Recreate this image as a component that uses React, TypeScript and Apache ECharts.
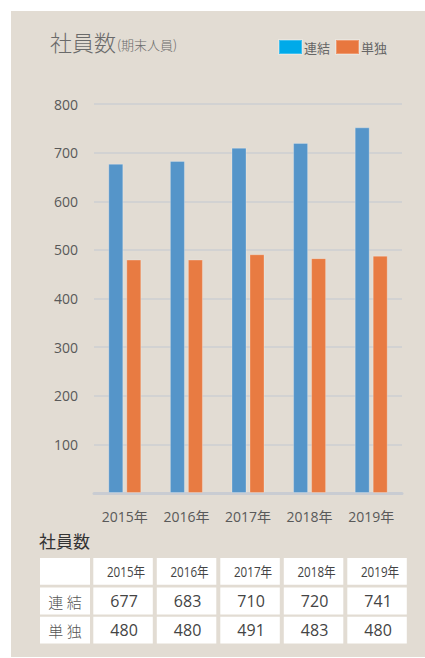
import React, { useEffect, useRef } from "react";
import * as echarts from "echarts";

const categories = ["2015年", "2016年", "2017年", "2018年", "2019年"];
const seriesNames = ["連結", "単独"];
const consolidated = [677, 683, 710, 720, 752];
const nonConsolidated = [480, 480, 491, 483, 488];
const yTicks = [0, 100, 200, 300, 400, 500, 600, 700, 800];

const tableTitle = "社員数";
const tableRowLabels = ["連 結", "単 独"];
const tableConsolidated = ["677", "683", "710", "720", "741"];
const tableNonConsolidated = ["480", "480", "491", "483", "480"];

const FONT = "'Open Sans', 'Noto Sans CJK JP', sans-serif";
const CJK = "'Noto Sans CJK JP', sans-serif";

export default function App() {
  const ref = useRef<HTMLDivElement>(null);

  useEffect(() => {
    document.body.style.margin = "0";
    if (!ref.current) return;
    const chart = echarts.init(ref.current, undefined, { renderer: "svg" });

    const graphics: any[] = [];
    // chart title
    graphics.push({
      type: "text",
      left: 50,
      top: 30,
      style: { text: "社員数", font: `300 22px ${CJK}`, fill: "#6a6a6a" },
    });
    graphics.push({
      type: "text",
      left: 117,
      top: 38,
      style: { text: "(期末人員)", font: `300 13px ${CJK}`, fill: "#6a6a6a" },
    });
    // table title
    graphics.push({
      type: "text",
      left: 39,
      top: 532,
      style: { text: tableTitle, font: `17px ${CJK}`, fill: "#333333" },
    });

    const rowY = [558, 587.6, 616.8];
    const rowH = 26.8;
    const colX = [40, 93.3, 156.8, 220.3, 283.8, 347.3];
    const colW = [50, 59.5, 59.5, 59.5, 59.5, 59.5];
    const rows: string[][] = [
      ["", ...categories],
      [tableRowLabels[0], ...tableConsolidated],
      [tableRowLabels[1], ...tableNonConsolidated],
    ];
    rows.forEach((row, r) => {
      row.forEach((cell, c) => {
        graphics.push({
          type: "rect",
          shape: { x: colX[c], y: rowY[r], width: colW[c], height: rowH },
          style: { fill: "#ffffff" },
        });
        if (cell) {
          const isHeader = r === 0;
          const isLabel = c === 0;
          graphics.push({
            type: "text",
            x: colX[c] + colW[c] / 2 + (isHeader ? 3 : isLabel ? 0 : 1),
            y: rowY[r] + rowH / 2,
            scaleX: isHeader ? 0.83 : 1,
            style: {
              text: cell,
              font: isHeader
                ? `14px ${FONT}`
                : isLabel
                ? `300 15px ${CJK}`
                : `16px ${FONT}`,
              fill: isLabel ? "#555555" : "#444444",
              align: "center",
              verticalAlign: "middle",
            },
          });
        }
      });
    });

    chart.setOption({
      animation: false,
      backgroundColor: "transparent",
      legend: {
        left: 278,
        top: 39,
        padding: 0,
        itemWidth: 23,
        itemHeight: 14,
        itemGap: 5,
        icon: "rect",
        textStyle: { fontSize: 13, color: "#666666", fontFamily: CJK, padding: [0, 0, 0, -3] },
        data: [
          { name: seriesNames[0], itemStyle: { color: "#00aae9" } },
          { name: seriesNames[1], itemStyle: { color: "#e8773f" } },
        ],
      },
      grid: { left: 94, right: 23, top: 104, bottom: 165 },
      xAxis: {
        type: "category",
        data: categories,
        axisLine: { show: true, lineStyle: { color: "#c9ccd2", width: 3 } },
        axisTick: { show: false },
        axisLabel: {
          color: "#595959",
          fontSize: 14,
          fontFamily: FONT,
          margin: 16,
        },
      },
      yAxis: {
        type: "value",
        min: yTicks[0],
        max: yTicks[yTicks.length - 1],
        interval: 100,
        axisLine: { show: false },
        axisTick: { show: false },
        splitLine: { lineStyle: { color: "#d2d2d2", width: 2 } },
        axisLabel: {
          color: "#595959",
          fontSize: 14,
          fontFamily: FONT,
          margin: 16,
          formatter: (v: number) => (v === 0 ? "" : String(v)),
        },
      },
      series: [
        {
          name: seriesNames[0],
          type: "bar",
          data: consolidated,
          barWidth: 15,
          barGap: "20%",
          itemStyle: {
            color: "#5595c9",
            borderColor: "rgba(255,255,255,0.25)",
            borderWidth: 1,
          },
        },
        {
          name: seriesNames[1],
          type: "bar",
          data: nonConsolidated,
          barWidth: 15,
          barGap: "20%",
          itemStyle: {
            color: "#e87b42",
            borderColor: "rgba(255,255,255,0.25)",
            borderWidth: 1,
          },
        },
      ],
      graphic: graphics,
    });

    return () => chart.dispose();
  }, []);

  return (
    <div style={{ position: "relative", width: 425, height: 658, background: "#ffffff" }}>
      <div
        style={{
          position: "absolute",
          left: 11,
          top: 11,
          width: 414,
          height: 646,
          background: "#e2dcd3",
        }}
      />
      <div ref={ref} style={{ position: "absolute", left: 0, top: 0, width: 425, height: 658 }} />
    </div>
  );
}
